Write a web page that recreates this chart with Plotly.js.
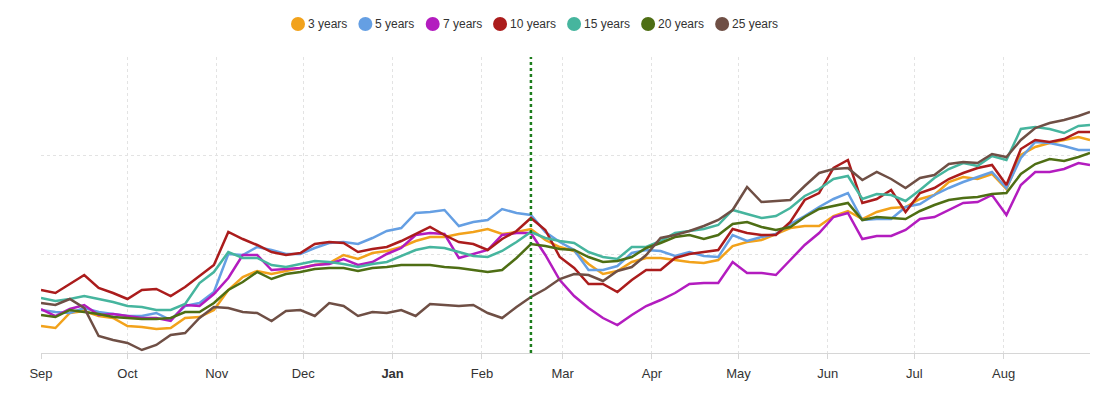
<!DOCTYPE html>
<html><head><meta charset="utf-8">
<script src="https://cdn.plot.ly/plotly-3.0.1.min.js"></script>
<style>html,body{margin:0;padding:0;background:#fff}#chart{width:1108px;height:394px}</style>
</head><body><div id="chart"></div>
<script>
// ---- data ----
const dates = ['2022-09-01','2022-09-06','2022-09-11','2022-09-16','2022-09-21','2022-09-26',
'2022-10-01','2022-10-06','2022-10-11','2022-10-16','2022-10-21','2022-10-26','2022-10-31',
'2022-11-05','2022-11-10','2022-11-15','2022-11-20','2022-11-25','2022-11-30',
'2022-12-05','2022-12-10','2022-12-15','2022-12-20','2022-12-25','2022-12-30',
'2023-01-04','2023-01-09','2023-01-14','2023-01-19','2023-01-24','2023-01-29',
'2023-02-03','2023-02-08','2023-02-13','2023-02-18','2023-02-23','2023-02-28',
'2023-03-05','2023-03-10','2023-03-15','2023-03-20','2023-03-25','2023-03-30',
'2023-04-04','2023-04-09','2023-04-14','2023-04-19','2023-04-24','2023-04-29',
'2023-05-04','2023-05-09','2023-05-14','2023-05-19','2023-05-24','2023-05-29',
'2023-06-03','2023-06-08','2023-06-13','2023-06-18','2023-06-23','2023-06-28',
'2023-07-03','2023-07-08','2023-07-13','2023-07-18','2023-07-23','2023-07-28',
'2023-08-02','2023-08-07','2023-08-12','2023-08-17','2023-08-22','2023-08-27','2023-08-31'];

const seriesNames = ['3 years','5 years','7 years','10 years','15 years','20 years','25 years'];
const seriesColors = ['#f2a21b','#659fe3','#b31cbf','#ab1c1c','#46b59e','#4e6e14','#6f4f45'];

const y3 = [27,25,40,42,37,35,27,26,24,25, 35,36,43,63,76,82,79,82,85,88,
  90,98,94,100,102,106,112,116,116,119, 121,124,119,121,124,113,106,102,89,79,
  82,91,95,95,93,91,90,93,107,111, 113,119,125,127,127,137,142,134,141,145,
  146,154,158,171,176,174,179,164,198,206, 210,213,216,213];
const y5 = [43,41,40,45,41,39,37,37,40,33, 47,50,61,99,98,106,103,99,99,105,
  110,111,109,115,122,125,140,141,143,127, 131,133,144,140,138,121,111,103,83,83,
  87,100,103,102,97,101,97,96,118,112, 116,119,129,137,146,154,160,133,134,134,
  146,149,158,165,171,176,181,165,195,211, 210,207,203,203];
const y7 = [44,37,44,48,38,39,37,35,35,32, 48,47,59,75,98,98,83,84,85,88,
  89,94,88,91,99,105,118,120,119,95, 99,103,118,120,120,98,73,57,45,35,
  28,38,47,53,60,69,70,70,91,80, 80,78,93,108,120,136,140,114,117,117,
  123,134,136,143,150,151,158,138,168,181, 181,184,190,188];
const y10 = [63,60,69,78,65,60,54,63,64,57, 66,77,88,121,114,108,101,98,100,109,
  111,110,101,104,106,112,119,126,118,111, 109,103,114,122,135,123,96,85,69,69,
  61,73,83,83,95,99,101,103,124,120, 118,118,131,153,160,185,193,150,154,163,
  141,160,165,174,180,185,188,168,204,213, 211,214,221,221];
const y15 = [55,52,54,57,54,51,47,46,43,43, 49,70,81,101,95,95,88,86,89,92,
  91,89,86,89,91,97,103,106,105,101, 97,96,102,111,121,115,112,110,101,96,
  94,106,106,112,120,122,124,128,143,139, 135,137,145,157,164,174,177,154,159,158,
  152,163,175,184,190,187,197,193,224,226, 224,220,227,228];
const y20 = [38,36,43,41,39,36,35,34,34,35, 41,41,50,63,71,81,74,79,81,84,
  85,85,82,85,86,88,88,88,86,85, 83,81,83,95,109,107,104,103,96,91,
  92,96,105,110,116,118,114,118,129,131, 126,123,126,136,144,147,150,133,136,135,
  134,142,148,153,155,156,159,160,179,189, 194,192,196,200];
const y25 = [50,48,54,45,17,13,10,3,8,18, 20,35,46,45,41,40,32,42,43,37,
  50,47,37,41,40,43,37,49,48,47, 48,40,35,46,56,64,74,79,78,72,
  82,86,98,115,118,122,127,133,143,166, 151,152,153,167,180,184,185,173,181,174,
  165,175,178,189,191,190,199,196,213,225, 230,233,237,241];

const monthTicks = ['2022-09-01','2022-10-01','2022-11-01','2022-12-01','2023-01-01','2023-02-01',
  '2023-03-01','2023-04-01','2023-05-01','2023-06-01','2023-07-01','2023-08-01'];
const monthLabels = ['Sep','Oct','Nov','Dec','<b>Jan</b>','Feb','Mar','Apr','May','Jun','Jul','Aug'];
const markerDate = '2023-02-18';
const yGrid = [0, 98.67, 197.33, 296];

// ---- chart ----
const allY = [y3, y5, y7, y10, y15, y20, y25];
const traces = allY.map((ys, k) => ({
  type: 'scatter', mode: 'lines', x: dates, y: ys, name: seriesNames[k],
  line: {color: seriesColors[k], width: 2.5}, showlegend: false, hoverinfo: 'skip'
}));

const L = 41, T = 57, W = 1049, H = 296;
const px = v => (v - L) / W;
const py = v => (T + H - v) / H;

const fontFam = '"Liberation Sans", Arial, Helvetica, sans-serif';
const cv = document.createElement('canvas').getContext('2d');
cv.font = '12px ' + fontFam;

const shapes = [{
  type: 'line', xref: 'x', yref: 'paper', x0: markerDate, x1: markerDate, y0: 0, y1: 1,
  line: {color: '#1d7d1d', width: 2.5, dash: 'dot'}, layer: 'above'
}];
const annotations = [];
let c = 298;
seriesNames.forEach((n, k) => {
  shapes.push({type: 'circle', xref: 'paper', yref: 'paper', xsizemode: 'pixel', ysizemode: 'pixel',
    xanchor: px(c), yanchor: py(24), x0: -7, x1: 7, y0: -7, y1: 7,
    fillcolor: seriesColors[k], line: {width: 0}});
  annotations.push({xref: 'paper', yref: 'paper', x: px(c + 9), y: py(24), xanchor: 'left', yanchor: 'middle',
    text: n, showarrow: false, borderpad: 0, font: {family: fontFam, size: 12, color: '#333333'}});
  const w = cv.measureText(n).width;
  c = c + 10 + w + 18;
});

const layout = {
  width: 1108, height: 394,
  margin: {l: L, r: 1108 - L - W, t: T, b: 394 - T - H, pad: 0},
  paper_bgcolor: '#ffffff', plot_bgcolor: '#ffffff',
  showlegend: false,
  font: {family: fontFam, color: '#333333'},
  xaxis: {
    type: 'date', range: ['2022-09-01', '2023-08-31'],
    tickmode: 'array', tickvals: monthTicks, ticktext: monthLabels,
    tickfont: {size: 13, color: '#333333'},
    ticks: 'outside', ticklen: 5, tickcolor: '#d6d6d6', ticklabelstandoff: 3,
    showgrid: true, gridcolor: '#e3e3e3', griddash: 'dot', gridwidth: 1,
    showline: true, linecolor: '#d6d6d6', linewidth: 1, zeroline: false, fixedrange: true
  },
  yaxis: {
    range: [0, 296], tickmode: 'array', tickvals: yGrid, showticklabels: false,
    showgrid: true, gridcolor: '#e3e3e3', griddash: 'dot', gridwidth: 1,
    zeroline: false, showline: false, ticks: '', fixedrange: true
  },
  shapes: shapes,
  annotations: annotations
};

Plotly.newPlot('chart', traces, layout, {displayModeBar: false, staticPlot: true});
</script>
</body></html>
